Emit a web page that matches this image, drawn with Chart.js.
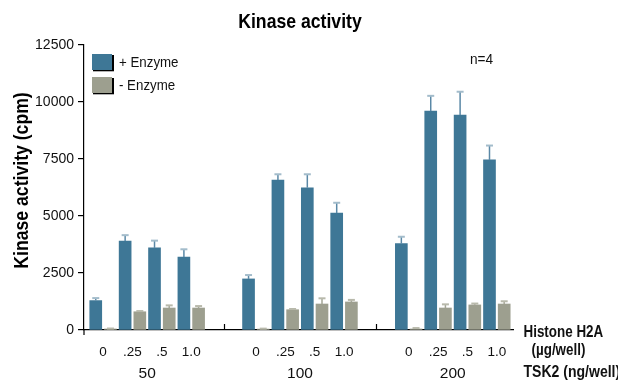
<!DOCTYPE html>
<html><head><meta charset="utf-8">
<script src="https://cdn.jsdelivr.net/npm/chart.js@4.4.1/dist/chart.umd.min.js"></script>
<style>html,body{margin:0;padding:0;background:#fff}#wrap{width:618px;height:381px}</style>
</head><body><div id="wrap"><canvas id="c" width="618" height="381"></canvas></div>
<script>
// ---- data ----
const concentrations = ['0', '.25', '.5', '1.0'];        // Histone H2A (µg/well)
const tsk2Amounts = ['50', '100', '200'];                 // TSK2 (ng/well)
const plusEnzyme  = [1290, 3900, 3600, 3200, 2240, 6580, 6240, 5130, 3790, 9600, 9430, 7460];
const plusErr     = [ 110,  260,  320,  340,  170,  250,  590,  450,  300,  670, 1020,  630];
const minusEnzyme = [  45,  800,  965,  965,   40,  890, 1140, 1230,   45,  965, 1100, 1140];
const minusErr    = [  20,   30,  115,   85,   20,   30,  250,   90,   40,  160,   60,  120];
const yTicks = [0, 2500, 5000, 7500, 10000, 12500];
const seriesLabels = ['+ Enzyme', '- Enzyme'];
const chartTitle = 'Kinase activity';
const yTitle = 'Kinase activity (cpm)';
const xTitle1 = ['Histone H2A', '(µg/well)'];
const xTitle2 = 'TSK2 (ng/well)';
const noteText = 'n=4';

// ---- layout / style constants ----
const FONT = "'Liberation Sans', Arial, sans-serif";
const BLUE = '#3e7796', GRAY = '#9d9f8f';
const GROUP_GAP = 2.2, BAR_OFFSET = 0.25;
const nC = concentrations.length;
const pairX = i => Math.floor(i / nC) * (nC - 1 + GROUP_GAP) + (i % nC);
const pairPositions = plusEnzyme.map((_, i) => pairX(i));
const groupCenters = tsk2Amounts.map((_, g) => pairX(g * nC) + (nC - 1) / 2);
const separators = tsk2Amounts.slice(1).map((_, g) => (pairX(g * nC + nC - 1) + pairX((g + 1) * nC)) / 2);
const X_MIN = -0.65, X_MAX = 13.95;

// condensed text helper (horizontal compression emulates the narrow face)
function narrowText(ctx, text, x, y, size, bold, sx, align, rot) {
  ctx.save();
  ctx.translate(x, y);
  if (rot) ctx.rotate(rot);
  ctx.scale(sx, 1);
  ctx.font = (bold ? 'bold ' : '') + size + 'px ' + FONT;
  ctx.textAlign = align || 'left';
  ctx.textBaseline = 'middle';
  ctx.fillText(text, 0, 0);
  ctx.restore();
}

const errorBars = {
  id: 'errorBars',
  afterDatasetsDraw(chart) {
    const ctx = chart.ctx, y = chart.scales.y;
    chart.data.datasets.forEach((ds, di) => {
      const meta = chart.getDatasetMeta(di);
      meta.data.forEach((bar, i) => {
        const top = y.getPixelForValue(ds.data[i].y + ds.errors[i]);
        ctx.save();
        ctx.strokeStyle = ds.errStem; ctx.lineWidth = 1.5;
        ctx.beginPath(); ctx.moveTo(bar.x, bar.y); ctx.lineTo(bar.x, top); ctx.stroke();
        ctx.strokeStyle = ds.errCap; ctx.lineWidth = 2;
        ctx.beginPath(); ctx.moveTo(bar.x - 3.5, top); ctx.lineTo(bar.x + 3.5, top); ctx.stroke();
        ctx.restore();
      });
    });
  }
};

const extras = {
  id: 'extras',
  afterDraw(chart) {
    const ctx = chart.ctx, x = chart.scales.x, ca = chart.chartArea;
    ctx.save();
    ctx.fillStyle = '#000';
    narrowText(ctx, chartTitle, 300, 22.5, 21, true, 0.84, 'center');
    narrowText(ctx, yTitle, 22, 180.5, 21, true, 0.84, 'center', -Math.PI / 2);
    ctx.fillStyle = '#111';
    narrowText(ctx, noteText, 470, 59.5, 15.5, false, 0.88, 'left');
    narrowText(ctx, xTitle1[0], 523.5, 333, 15.6, true, 0.86, 'left');
    narrowText(ctx, xTitle1[1], 531.5, 351, 15.6, true, 0.86, 'left');
    narrowText(ctx, xTitle2, 523.5, 373, 15.6, true, 0.9, 'left');
    // legend
    const colors = chart.data.datasets.map(d => d.backgroundColor);
    [54, 77].forEach((top, i) => {
      ctx.fillStyle = colors[i];
      ctx.fillRect(92, top, 20, 16);
      ctx.fillStyle = '#000';
      ctx.fillRect(112, top + 1, 2, 16);
      ctx.fillRect(93, top + 16, 21, 1.3);
      ctx.fillStyle = '#111';
      narrowText(ctx, seriesLabels[i], 119, top + 9.5, 14, false, 0.95, 'left');
    });
    // separators and axis stub
    ctx.strokeStyle = '#000'; ctx.lineWidth = 1.2;
    separators.forEach(s => {
      const px = Math.round(x.getPixelForValue(s)) + 0.5;
      ctx.beginPath(); ctx.moveTo(px, ca.bottom - 6); ctx.lineTo(px, ca.bottom); ctx.stroke();
    });
    ctx.beginPath(); ctx.moveTo(ca.left, ca.bottom); ctx.lineTo(ca.left, ca.bottom + 5); ctx.stroke();
    ctx.restore();
  }
};

const chart = new Chart(document.getElementById('c'), {
  type: 'bar',
  data: {
    datasets: [
      { label: seriesLabels[0], data: plusEnzyme.map((v, i) => ({ x: pairPositions[i] - BAR_OFFSET, y: v })),
        errors: plusErr, errStem: '#5a88a6', errCap: '#a3bccb', backgroundColor: BLUE },
      { label: seriesLabels[1], data: minusEnzyme.map((v, i) => ({ x: pairPositions[i] + BAR_OFFSET, y: v })),
        errors: minusErr, errStem: '#a3a596', errCap: '#b8b9ab', backgroundColor: GRAY }
    ]
  },
  options: {
    responsive: false, animation: false,
    layout: { padding: { left: 0, right: 105, top: 45, bottom: 0 } },
    datasets: { bar: { grouped: false, barThickness: 12, borderWidth: 0 } },
    plugins: { title: { display: false }, legend: { display: false }, tooltip: { enabled: false } },
    scales: {
      x: { type: 'linear', min: X_MIN, max: X_MAX, offset: false, position: 'bottom', weight: 0,
        grid: { display: false, drawTicks: false, offset: false }, border: { display: true, color: '#000', width: 1.2 },
        afterBuildTicks: a => { a.ticks = pairPositions.map(v => ({ value: v })); },
        ticks: { autoSkip: false, maxRotation: 0, padding: 14, color: '#111',
          font: { family: FONT, size: 13.5 }, callback: (v, i) => concentrations[i % nC] },
        afterFit: s => { s.height = 30; } },
      x2: { type: 'linear', min: X_MIN, max: X_MAX, offset: false, position: 'bottom', weight: 1,
        grid: { display: false, drawTicks: false, offset: false }, border: { display: false },
        afterBuildTicks: a => { a.ticks = groupCenters.map(v => ({ value: v })); },
        ticks: { autoSkip: false, maxRotation: 0, padding: 4, color: '#111',
          font: { family: FONT, size: 15.5 }, callback: (v, i) => tsk2Amounts[i] },
        afterFit: s => { s.height = 21; } },
      y: { min: 0, max: 12500, position: 'left',
        afterBuildTicks: a => { a.ticks = yTicks.map(v => ({ value: v })); },
        grid: { display: true, drawOnChartArea: false, drawTicks: true, tickLength: 6, color: '#000', lineWidth: 1.2 },
        border: { display: true, color: '#000', width: 1.2 },
        ticks: { padding: 4, color: '#111', font: { family: FONT, size: 14 }, callback: v => String(v) },
        afterFit: s => { s.width = 84; } }
    }
  },
  plugins: [errorBars, extras]
});
</script>
</body></html>
